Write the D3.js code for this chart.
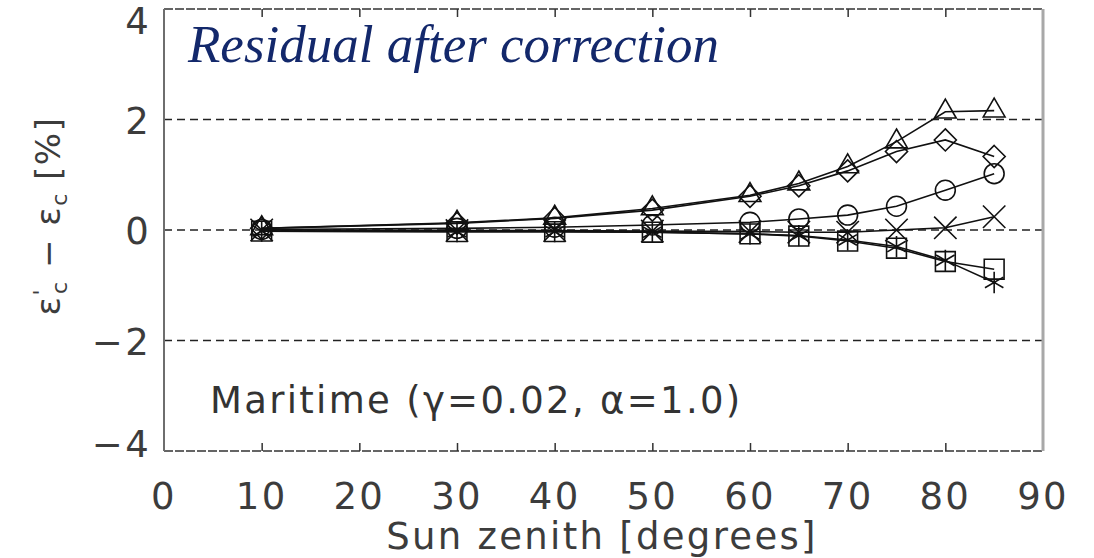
<!DOCTYPE html>
<html>
<head>
<meta charset="utf-8">
<script src="https://cdn.jsdelivr.net/npm/d3@7"></script>
<style>
  html, body { margin: 0; padding: 0; background: #fff; }
  svg { display: block; }
</style>
</head>
<body>
<svg id="chart" width="1094" height="558"></svg>
<script>
// Sun zenith angles (degrees)
const zenith = [10, 30, 40, 50, 60, 65, 70, 75, 80, 85];

// Residual error after correction (%) for each case
const triangleSeries = [0.03, 0.13, 0.22, 0.39, 0.63, 0.84, 1.15, 1.60, 2.14, 2.16];
const diamondSeries  = [0.03, 0.12, 0.21, 0.36, 0.61, 0.80, 1.07, 1.42, 1.63, 1.33];
const circleSeries   = [0.01, 0.03, 0.05, 0.09, 0.14, 0.20, 0.27, 0.43, 0.72, 1.02];
const crossSeries    = [0.00, -0.01, -0.01, -0.02, -0.03, -0.04, -0.04, 0.00, 0.04, 0.24];
const squareSeries   = [-0.02, -0.03, -0.03, -0.04, -0.07, -0.11, -0.20, -0.33, -0.57, -0.71];
const asteriskSeries = [-0.02, -0.03, -0.03, -0.04, -0.07, -0.10, -0.18, -0.30, -0.55, -0.95];

const xTicks = [0, 10, 20, 30, 40, 50, 60, 70, 80, 90];
const yTicks = [-4, -2, 0, 2, 4];
const refLines = [-2, 0, 2];

const series = [
  { values: triangleSeries, symbol: d3.symbolTriangle2, size: 340 },
  { values: diamondSeries,  symbol: d3.symbolDiamond2,  size: 310 },
  { values: circleSeries,   symbol: d3.symbolCircle,    size: 310 },
  { values: crossSeries,    symbol: d3.symbolTimes,     size: 330 },
  { values: squareSeries,   symbol: d3.symbolSquare2,   size: 500 },
  { values: asteriskSeries, symbol: d3.symbolAsterisk,  size: 320 }
];

const svg = d3.select("#chart");
const plot = { left: 164, right: 1043, top: 9, bottom: 451 };

const x = d3.scaleLinear().domain([0, 90]).range([plot.left, plot.right]);
const y = d3.scaleLinear().domain([-4, 4]).range([plot.bottom, plot.top]);

const textColor = "#3c3c3c";
const labelFont = "'DejaVu Sans', sans-serif";
const labelSize = 37;
const labelSpacing = 2.3;

// dashed reference lines
svg.append("g").selectAll("line").data(refLines).join("line")
  .attr("x1", plot.left).attr("x2", plot.right)
  .attr("y1", d => y(d)).attr("y2", d => y(d))
  .attr("stroke", "#222").attr("stroke-width", 1.6)
  .attr("stroke-dasharray", "8,5");

// frame: dashed top/bottom, solid grey sides
[plot.top, plot.bottom].forEach(py => {
  svg.append("line")
    .attr("x1", plot.left).attr("x2", plot.right)
    .attr("y1", py).attr("y2", py)
    .attr("stroke", "#333").attr("stroke-width", 1.6)
    .attr("stroke-dasharray", "9,2");
});
svg.append("line")
  .attr("x1", plot.left).attr("x2", plot.left)
  .attr("y1", plot.top).attr("y2", plot.bottom)
  .attr("stroke", "#6e6e6e").attr("stroke-width", 2);
svg.append("line")
  .attr("x1", plot.right).attr("x2", plot.right)
  .attr("y1", plot.top).attr("y2", plot.bottom)
  .attr("stroke", "#a8a8a8").attr("stroke-width", 3);

// inward ticks on the top and bottom axes
const bottomAxis = d3.axisBottom(x).tickValues(xTicks).tickSize(-8).tickFormat("");
const topAxis = d3.axisTop(x).tickValues(xTicks).tickSize(-8).tickFormat("");
svg.append("g").attr("transform", `translate(0,${plot.bottom})`).call(bottomAxis)
  .call(g => g.select(".domain").remove())
  .call(g => g.selectAll(".tick line").attr("stroke", "#333").attr("stroke-width", 1.5))
  .call(g => g.selectAll(".tick").filter(d => d === 0 || d === 90).remove());
svg.append("g").attr("transform", `translate(0,${plot.top})`).call(topAxis)
  .call(g => g.select(".domain").remove())
  .call(g => g.selectAll(".tick line").attr("stroke", "#333").attr("stroke-width", 1.5))
  .call(g => g.selectAll(".tick").filter(d => d === 0 || d === 90).remove());

// x tick labels
svg.append("g").selectAll("text").data(xTicks).join("text")
  .attr("x", d => x(d)).attr("y", 509)
  .attr("text-anchor", "middle")
  .attr("font-family", labelFont).attr("font-size", labelSize)
  .attr("letter-spacing", labelSpacing)
  .attr("fill", textColor)
  .text(d => d);

// y tick labels, end labels kept inside the canvas
svg.append("g").selectAll("text").data(yTicks).join("text")
  .attr("x", 151)
  .attr("y", d => Math.min(Math.max(y(d) + 14, 34), 457))
  .attr("text-anchor", "end")
  .attr("font-family", labelFont).attr("font-size", labelSize)
  .attr("letter-spacing", labelSpacing)
  .attr("fill", textColor)
  .text(d => d < 0 ? "\u2212" + Math.abs(d) : d);

// axis titles
svg.append("text")
  .attr("x", 602).attr("y", 549)
  .attr("text-anchor", "middle")
  .attr("font-family", labelFont).attr("font-size", labelSize)
  .attr("letter-spacing", labelSpacing)
  .attr("fill", textColor)
  .text("Sun zenith [degrees]");

const yTitle = svg.append("text")
  .attr("transform", "translate(60,216) rotate(-90)")
  .attr("text-anchor", "middle")
  .attr("font-family", labelFont).attr("font-size", 34)
  .attr("letter-spacing", 1.5)
  .attr("fill", textColor);
yTitle.append("tspan").text("\u03b5");
yTitle.append("tspan").attr("dy", -11).attr("font-size", 22).text("'");
yTitle.append("tspan").attr("dy", 18).attr("dx", -6).attr("font-size", 22).text("c");
yTitle.append("tspan").attr("dy", -7).text(" \u2212 \u03b5");
yTitle.append("tspan").attr("dy", 7).attr("font-size", 22).text("c");
yTitle.append("tspan").attr("dy", -7).text(" [%]");

// series lines and markers
const line = d3.line().x((d, i) => x(zenith[i])).y(d => y(d));
const seriesG = svg.append("g");
series.forEach(s => {
  seriesG.append("path")
    .attr("d", line(s.values))
    .attr("fill", "none").attr("stroke", "#111").attr("stroke-width", 1.6);
});
series.forEach(s => {
  const sym = d3.symbol().type(s.symbol).size(s.size);
  seriesG.append("g").selectAll("path").data(s.values).join("path")
    .attr("transform", (d, i) => `translate(${x(zenith[i])},${y(d)})`)
    .attr("d", sym)
    .attr("fill", "none").attr("stroke", "#111").attr("stroke-width", 1.6);
});

// case annotation
svg.append("text")
  .attr("x", 210).attr("y", 413)
  .attr("font-family", labelFont).attr("font-size", labelSize)
  .attr("letter-spacing", labelSpacing)
  .attr("fill", "#333")
  .text("Maritime (\u03b3=0.02, \u03b1=1.0)");

// panel title
svg.append("text")
  .attr("x", 188).attr("y", 62)
  .attr("font-family", "'Liberation Serif', serif")
  .attr("font-style", "italic")
  .attr("font-size", 53)
  .attr("fill", "#13286b")
  .text("Residual after correction");
</script>
</body>
</html>
